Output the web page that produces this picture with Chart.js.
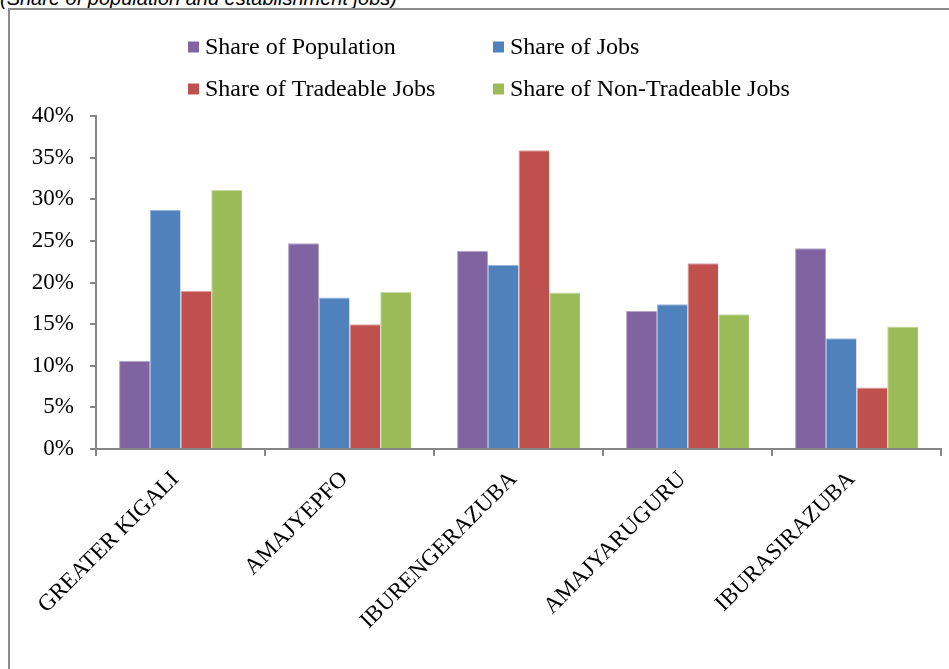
<!DOCTYPE html>
<html>
<head>
<meta charset="utf-8">
<script src="https://cdn.jsdelivr.net/npm/chart.js@4/dist/chart.umd.min.js"></script>
<style>
  html, body { margin: 0; padding: 0; background: #fff; overflow: hidden; }
  body { width: 949px; height: 669px; position: relative; }
  #caption { position: absolute; left: 0; top: -12px; font-family: "Liberation Sans", Arial, sans-serif; font-style: italic; font-size: 20px; line-height: 20px; color: #000; white-space: nowrap; }
  #frame { position: absolute; left: 8px; top: 8px; width: 980px; height: 700px; border: 2px solid #8c8c8c; box-sizing: border-box; }
  #wrap { position: absolute; left: 0; top: 0; width: 949px; height: 669px; }
</style>
</head>
<body>
<div id="caption">(Share of population and establishment jobs)</div>
<div id="frame"></div>
<div id="wrap"><canvas id="c"></canvas></div>
<script>
const categories = ["GREATER KIGALI", "AMAJYEPFO", "IBURENGERAZUBA", "AMAJYARUGURU", "IBURASIRAZUBA"];
const seriesNames = ["Share of Population", "Share of Jobs", "Share of Tradeable Jobs", "Share of Non-Tradeable Jobs"];
const shareOfPopulation = [10.6, 24.7, 23.8, 16.6, 24.1];
const shareOfJobs = [28.7, 18.2, 22.1, 17.4, 13.3];
const shareOfTradeableJobs = [19.0, 15.0, 35.9, 22.3, 7.4];
const shareOfNonTradeableJobs = [31.1, 18.9, 18.8, 16.2, 14.7];
const yTicks = [0, 5, 10, 15, 20, 25, 30, 35, 40];

const colors = ["#8064A2", "#4F81BD", "#C0504D", "#9BBB59"];
const borders = ["#B4A3C8", "#9AB5DA", "#E2A4A2", "#C9DAA8"];
const values = [shareOfPopulation, shareOfJobs, shareOfTradeableJobs, shareOfNonTradeableJobs];

const serif = '"Liberation Serif", "Times New Roman", serif';

const legendPlugin = {
  id: 'gridLegend',
  afterDraw(chart) {
    const ctx = chart.ctx;
    const colX = [188, 493];
    const rowY = [47, 89];
    ctx.save();
    ctx.font = '24px ' + serif;
    ctx.textBaseline = 'middle';
    ctx.textAlign = 'left';
    chart.data.datasets.forEach((ds, i) => {
      const cx = colX[i % 2];
      const cy = rowY[Math.floor(i / 2)];
      ctx.fillStyle = ds.backgroundColor;
      ctx.fillRect(cx, cy - 5.5, 11, 11);
      ctx.fillStyle = '#000';
      ctx.fillText(ds.label, cx + 17, cy + 1);
    });
    ctx.restore();
  }
};

new Chart(document.getElementById('c'), {
  type: 'bar',
  data: {
    labels: categories,
    datasets: seriesNames.map((name, i) => ({
      label: name,
      data: values[i],
      backgroundColor: colors[i],
      borderColor: borders[i],
      borderWidth: { top: 1, left: 1, right: 0, bottom: 0 },
      categoryPercentage: 0.727,
      barPercentage: 1.0
    }))
  },
  options: {
    responsive: true,
    maintainAspectRatio: false,
    animation: false,
    devicePixelRatio: 1,
    layout: { padding: { top: 116, right: 8, bottom: 0, left: 0 } },
    plugins: {
      legend: { display: false },
      tooltip: { enabled: false },
      title: { display: false }
    },
    scales: {
      x: {
        offset: true,
        grid: {
          offset: true,
          drawOnChartArea: false,
          drawTicks: true,
          tickLength: 7,
          color: '#868686',
          lineWidth: 2
        },
        border: { display: true, color: '#868686', width: 2 },
        ticks: {
          minRotation: 45,
          maxRotation: 45,
          autoSkip: false,
          padding: 10,
          labelOffset: -5,
          color: '#000',
          font: { family: serif, size: 23 }
        },
        afterFit(scale) { scale.height = 220; }
      },
      y: {
        min: 0,
        max: 40,
        afterBuildTicks(scale) { scale.ticks = yTicks.map(v => ({ value: v })); },
        grid: {
          drawOnChartArea: false,
          drawTicks: true,
          tickLength: 6,
          color: '#868686',
          lineWidth: 2
        },
        border: { display: true, color: '#868686', width: 2 },
        ticks: {
          padding: 16,
          color: '#000',
          font: { family: serif, size: 23 },
          callback: v => v + '%'
        },
        afterFit(scale) { scale.width = 96; }
      }
    }
  },
  plugins: [legendPlugin]
});
</script>
</body>
</html>
